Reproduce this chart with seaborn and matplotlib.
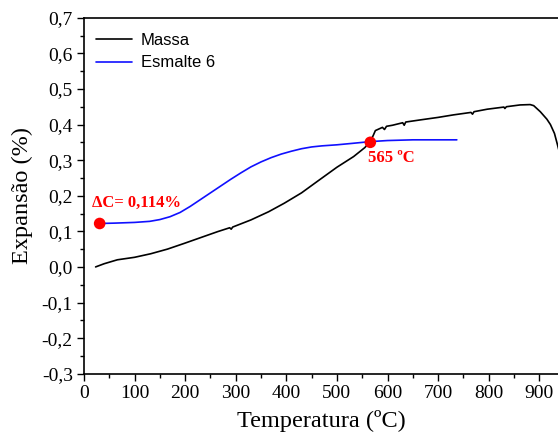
import matplotlib
matplotlib.use("Agg")
import matplotlib.pyplot as plt
import seaborn as sns
import pandas as pd
from matplotlib.ticker import MultipleLocator, FixedLocator, FixedFormatter

# ---- data ----
massa_T = [23, 40, 66, 100, 132, 165, 198, 230, 264, 288, 291, 294, 330, 365, 396,
           430, 461, 500, 533, 555, 566, 572, 576, 590, 594, 598, 610, 630, 633,
           636, 665, 700, 730, 765, 768, 771, 797, 830, 832, 835, 862, 882, 889,
           902, 915, 922, 930, 936, 942]
massa_v = [0.000, 0.009, 0.020, 0.027, 0.037, 0.050, 0.066, 0.082, 0.099, 0.110,
           0.106, 0.112, 0.132, 0.155, 0.179, 0.208, 0.240, 0.280, 0.310, 0.335,
           0.352, 0.370, 0.383, 0.392, 0.386, 0.395, 0.398, 0.405, 0.398, 0.407,
           0.413, 0.420, 0.427, 0.434, 0.429, 0.436, 0.443, 0.449, 0.445, 0.450,
           0.455, 0.456, 0.453, 0.436, 0.415, 0.400, 0.375, 0.343, 0.310]

esmalte_T = [31, 60, 100, 130, 150, 170, 190, 210, 230, 250, 270, 290, 310, 330,
             350, 370, 390, 410, 430, 450, 470, 500, 530, 566, 600, 650, 700, 737]
esmalte_v = [0.122, 0.123, 0.125, 0.128, 0.133, 0.141, 0.153, 0.170, 0.189, 0.208,
             0.227, 0.246, 0.264, 0.281, 0.295, 0.307, 0.317, 0.325, 0.332, 0.337,
             0.340, 0.343, 0.347, 0.352, 0.355, 0.357, 0.357, 0.357]

points_T = [31, 566]
points_v = [0.122, 0.350]
point_labels = ["ΔC= 0,114%", "565 ºC"]

x_ticks = [0, 100, 200, 300, 400, 500, 600, 700, 800, 900]
y_ticks = [-0.3, -0.2, -0.1, 0.0, 0.1, 0.2, 0.3, 0.4, 0.5, 0.6, 0.7]
y_ticklabels = ["-0,3", "-0,2", "-0,1", "0,0", "0,1", "0,2", "0,3", "0,4", "0,5", "0,6", "0,7"]

sns.set_style("ticks")
plt.rcParams['font.family'] = ['Liberation Serif', 'DejaVu Serif']
plt.rcParams['text.color'] = 'black'
plt.rcParams['axes.labelcolor'] = 'black'

fig = plt.figure(figsize=(5.58, 4.43), dpi=100)
ax = fig.add_axes([0.1505, 0.1564, 0.8495, 0.8036])

df_m = pd.DataFrame({"T": massa_T, "v": massa_v})
df_e = pd.DataFrame({"T": esmalte_T, "v": esmalte_v})
sns.lineplot(data=df_m, x="T", y="v", ax=ax, color="black", lw=1.2,
             label="Massa", sort=False, estimator=None)
sns.lineplot(data=df_e, x="T", y="v", ax=ax, color="#1010ff", lw=1.2,
             label="Esmalte 6", sort=False, estimator=None)
sns.scatterplot(x=points_T, y=points_v, ax=ax, color="#ff0000", s=70,
                edgecolor="none", zorder=5, legend=False)

ax.text(points_T[0] - 16, 0.180, point_labels[0], color="#ff0000",
        fontsize=12, fontweight="bold", ha="left", va="center")
ax.text(points_T[1] - 5, 0.307, point_labels[1], color="#ff0000",
        fontsize=12, fontweight="bold", ha="left", va="center")

ax.set_xlim(0, 937)
ax.set_ylim(-0.3, 0.7)
ax.xaxis.set_major_locator(FixedLocator(x_ticks))
ax.xaxis.set_minor_locator(MultipleLocator(50))
ax.yaxis.set_major_locator(FixedLocator(y_ticks))
ax.yaxis.set_major_formatter(FixedFormatter(y_ticklabels))
ax.yaxis.set_minor_locator(MultipleLocator(0.05))
ax.tick_params(which="major", direction="out", length=5, width=1, labelsize=14,
               colors="black", pad=3)
ax.tick_params(which="minor", direction="out", length=3, width=1, colors="black")
ax.tick_params(top=False, right=False, which="both")

for s in ["left", "bottom", "top"]:
    ax.spines[s].set_visible(True)
    ax.spines[s].set_color("black")
    ax.spines[s].set_linewidth(1.2)
ax.spines["right"].set_visible(False)

ax.set_xlabel("Temperatura (ºC)", fontsize=17.5, labelpad=6)
ax.set_ylabel("Expansão (%)", fontsize=17.5, labelpad=6)

leg = ax.legend(loc="upper left", frameon=False, prop={"family": "Liberation Sans", "size": 12},
                handlelength=2.2, handletextpad=0.5, borderaxespad=0.3,
                labelspacing=0.45, bbox_to_anchor=(0.0, 0.99))
for t in leg.get_texts():
    t.set_color("black")

fig.savefig("out.png", dpi=100)
